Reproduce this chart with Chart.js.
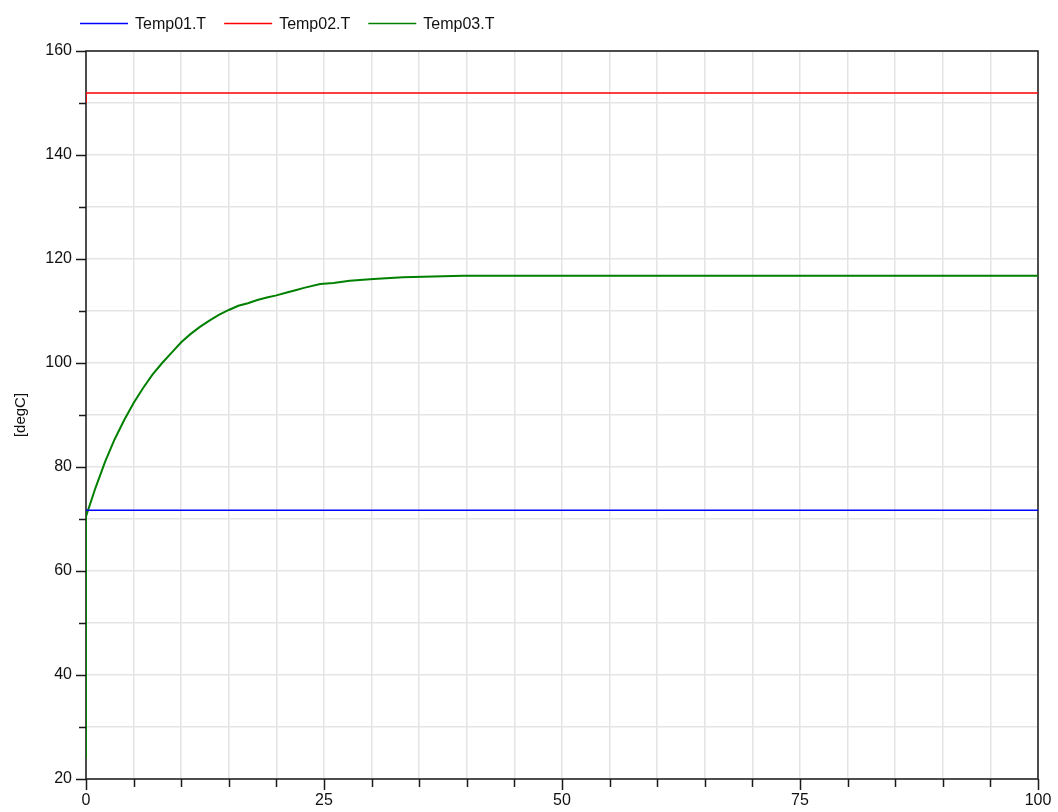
<!DOCTYPE html>
<html lang="en">
<head>
  <meta charset="UTF-8" />
  <title>Temperatures</title>
  <script src="https://cdn.jsdelivr.net/npm/chart.js"></script>
  <style>
    html, body { margin: 0; padding: 0; background: #fff; }
    #wrap { width: 1058px; height: 812px; position: relative; }
  </style>
</head>
<body>
  <div id="wrap"><canvas id="chart"></canvas></div>

  <script>
    // time [s] and values [degC]
    const temp01Time = [0, 100];
    const temp01Vals = [71.7, 71.7];

    const temp02Time = [0, 0, 100];
    const temp02Vals = [150, 151.9, 151.9];

    const temp03Time = [0, 0, 1, 2, 3, 4, 5, 6, 7, 8, 9, 10, 11, 12, 13, 14, 15, 16, 17, 18, 19, 20, 21, 22, 23, 24.6, 26, 27.7, 30.2, 33.3, 39.6, 100];
    const temp03Vals = [24, 70.5, 76, 81, 85.3, 89, 92.3, 95.2, 97.8, 100, 102, 104, 105.6, 107, 108.2, 109.3, 110.2, 111, 111.5, 112.1, 112.6, 113.0, 113.5, 114.0, 114.5, 115.2, 115.4, 115.8, 116.15, 116.5, 116.8, 116.8];

    const seriesNames = ['Temp01.T', 'Temp02.T', 'Temp03.T'];
    const seriesColors = ['#0000ff', '#ff0000', '#008000'];

    const FONT = "'Liberation Sans', Arial, sans-serif";

    function toPoints(xs, ys) {
      return xs.map((x, i) => ({ x: x, y: ys[i] }));
    }

    // frame, tick marks and legend drawn on top of the chart
    const decorPlugin = {
      id: 'decor',
      beforeDatasetsDraw(chart) {
        const ctx = chart.ctx;
        const a = chart.chartArea;
        const xs = chart.scales.x, ys = chart.scales.y;
        ctx.save();
        ctx.strokeStyle = '#1a1a1a';
        ctx.lineWidth = 1.5;
        ctx.strokeRect(a.left, a.top, a.right - a.left, a.bottom - a.top);
        ctx.beginPath();
        xs.ticks.forEach(t => {
          const px = Math.round(xs.getPixelForValue(t.value)) + 0.5;
          const len = t.value % 25 === 0 ? 11 : 8;
          ctx.moveTo(px, a.bottom);
          ctx.lineTo(px, a.bottom + len);
        });
        ys.ticks.forEach(t => {
          const py = Math.round(ys.getPixelForValue(t.value)) + 0.5;
          const len = t.value % 20 === 0 ? 10 : 7;
          ctx.moveTo(a.left, py);
          ctx.lineTo(a.left - len, py);
        });
        ctx.stroke();
        ctx.restore();
      },
      afterDraw(chart) {
        const ctx = chart.ctx;
        ctx.save();
        ctx.font = '16px ' + FONT;
        ctx.textBaseline = 'middle';
        ctx.fillStyle = '#111';
        let x = 80;
        const y = 23.5;
        chart.data.datasets.forEach(ds => {
          ctx.strokeStyle = ds.borderColor;
          ctx.lineWidth = 1.5;
          ctx.beginPath();
          ctx.moveTo(x, y);
          ctx.lineTo(x + 48, y);
          ctx.stroke();
          x += 55;
          ctx.fillText(ds.label, x, y + 1);
          x += ctx.measureText(ds.label).width + 18;
        });
        ctx.restore();
      }
    };

    Chart.defaults.font.family = FONT;
    Chart.defaults.font.size = 16;
    Chart.defaults.color = '#111';

    new Chart(document.getElementById('chart'), {
      type: 'line',
      data: {
        datasets: [
          { label: seriesNames[0], data: toPoints(temp01Time, temp01Vals), borderColor: seriesColors[0], borderWidth: 1.5 },
          { label: seriesNames[1], data: toPoints(temp02Time, temp02Vals), borderColor: seriesColors[1], borderWidth: 1.5 },
          { label: seriesNames[2], data: toPoints(temp03Time, temp03Vals), borderColor: seriesColors[2], borderWidth: 2 }
        ]
      },
      options: {
        responsive: true,
        maintainAspectRatio: false,
        animation: false,
        elements: { point: { radius: 0 }, line: { tension: 0 } },
        layout: { padding: { top: 51, right: 0, left: 0, bottom: 0 } },
        plugins: {
          legend: { display: false },
          tooltip: { enabled: false }
        },
        scales: {
          x: {
            type: 'linear',
            min: 0,
            max: 100,
            border: { display: false },
            grid: { color: '#e4e4e4', lineWidth: 1.5, drawTicks: false },
            ticks: {
              stepSize: 5,
              padding: 12,
              maxRotation: 0,
              autoSkip: false,
              callback: v => (v % 25 === 0 ? v : '')
            },
            afterFit(scale) {
              scale.height = 33;
              scale.paddingRight = 20;
              scale.paddingLeft = 0;
            }
          },
          y: {
            min: 20,
            max: 160,
            border: { display: false },
            grid: { color: '#e4e4e4', lineWidth: 1.5, drawTicks: false },
            ticks: {
              stepSize: 10,
              padding: 14,
              autoSkip: false,
              callback: v => (v % 20 === 0 ? v : '')
            },
            title: {
              display: true,
              text: '[degC]',
              font: { size: 15 },
              padding: { top: 12, bottom: 0 }
            },
            afterFit(scale) { scale.width = 86; }
          }
        }
      },
      plugins: [decorPlugin]
    });
  </script>
</body>
</html>
